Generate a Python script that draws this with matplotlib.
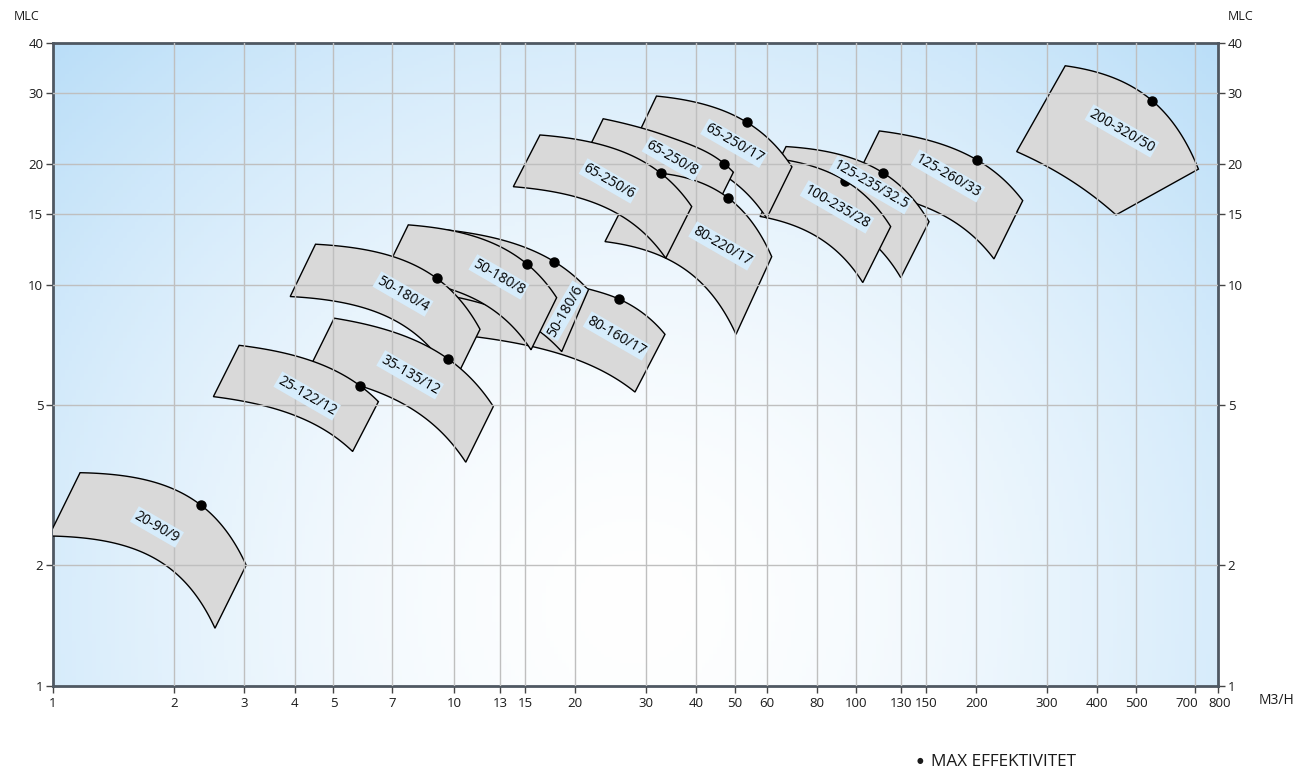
import numpy as np
import matplotlib
matplotlib.use("Agg")
import matplotlib.pyplot as plt
import matplotlib.transforms as mtransforms
from matplotlib.ticker import NullLocator

plt.rcParams["font.family"] = ["Open Sans", "DejaVu Sans"]

# %%
# Pump ranges (Q in m3/h, H in MLC), listed back to front
pumps = ["200-320/50", "125-260/33", "125-235/32.5", "100-235/28", "65-250/17",
         "65-250/8", "80-220/17", "65-250/6", "80-160/17", "50-180/6",
         "50-180/8", "50-180/4", "35-135/12", "25-122/12", "20-90/9"]

# max impeller curve
top_q = [[333, 549, 715], [114.6, 200.7, 260.9], [67.1, 116.8, 152.4],
         [67.9, 94.1, 122.3], [31.9, 53.5, 69.4], [23.5, 33.8, 47.1, 49.6],
         [29.1, 48.0, 61.8], [16.35, 32.7, 39.05], [10.33, 21.54, 25.77, 33.5],
         [9.57, 17.75, 21.58], [7.68, 15.2, 17.99], [4.51, 9.04, 11.59],
         [5.02, 9.63, 12.51], [2.91, 5.82, 6.47], [1.168, 2.334, 3.03]]
top_h = [[35.1, 28.7, 19.4], [24.15, 20.45, 16.19], [22.08, 19.02, 14.35],
         [20.4, 18.16, 13.95], [29.5, 25.4, 19.65], [25.9, 23.47, 20.0, 19.06],
         [19.1, 16.48, 11.74], [23.6, 18.95, 15.65], [10.75, 9.76, 9.2, 7.52],
         [13.69, 11.41, 9.7], [14.09, 11.24, 9.28], [12.61, 10.37, 7.74],
         [8.25, 6.54, 4.97], [7.06, 5.6, 5.11], [3.4, 2.825, 2.0]]

# min impeller curve
bot_q = [[252, 335.7, 445.6], [97.2, 170.2, 221.2], [57.0, 99.3, 129.6],
         [57.8, 80.1, 104.2], [27.7, 46.4, 60.05], [20.3, 29.2, 42.8],
         [23.74, 33.64, 50.35], [14.03, 28.1, 33.64], [9.21, 18.34, 28.2],
         [8.22, 15.23, 18.52], [6.63, 13.12, 15.53], [3.9, 7.8, 10.0],
         [4.29, 8.22, 10.68], [2.51, 5.02, 5.58], [0.977, 1.953, 2.533]]
bot_h = [[21.45, 18.45, 14.92], [17.29, 14.64, 11.59], [16.01, 13.79, 10.41],
         [14.79, 13.17, 10.12], [21.96, 18.89, 14.64], [19.2, 17.12, 14.15],
         [12.8, 11.64, 7.52], [17.54, 14.09, 11.64], [7.58, 6.72, 5.4],
         [9.61, 8.01, 6.81], [10.43, 8.33, 6.88], [9.34, 7.68, 5.73],
         [6.0, 4.75, 3.61], [5.26, 4.19, 3.84], [2.365, 1.965, 1.393]]

# max efficiency points
bep_q = [549, 200.7, 116.8, 94.1, 53.5, 47.1, 48.0, 32.7, 25.77, 17.75,
         15.2, 9.04, 9.63, 5.82, 2.334]
bep_h = [28.7, 20.45, 19.02, 18.16, 25.4, 20.0, 16.48, 18.95, 9.2, 11.41,
         11.24, 10.37, 6.54, 5.6, 2.825]

# label anchors
label_q = [461, 169.9, 109.2, 89.9, 49.8, 34.9, 46.5, 24.3, 25.4, 18.87,
           12.92, 7.45, 7.76, 4.30, 1.816]
label_h = [24.15, 18.66, 17.72, 15.62, 22.5, 20.6, 12.49, 18.13, 7.45, 8.6,
           10.45, 9.48, 5.96, 5.28, 2.49]

x_ticks = [1, 2, 3, 4, 5, 7, 10, 13, 15, 20, 30, 40, 50, 60, 80, 100, 130,
           150, 200, 300, 400, 500, 700, 800]
y_ticks = [1, 2, 5, 10, 15, 20, 30, 40]


def pump_curve(q, h, n=40):
    """Cubic Hermite through the points (parabolic slopes, linear Q-H)."""
    x = np.asarray(q, float)
    y = np.asarray(h, float)
    dx = np.diff(x)
    d = np.diff(y) / dx
    m = np.empty(len(x))
    m[1:-1] = (dx[1:] * d[:-1] + dx[:-1] * d[1:]) / (dx[:-1] + dx[1:])
    m[0] = d[0] + (d[0] - d[1]) * dx[0] / (dx[0] + dx[1])
    m[-1] = d[-1] + (d[-1] - d[-2]) * dx[-1] / (dx[-2] + dx[-1])
    xs, ys = [], []
    for i in range(len(x) - 1):
        t = np.linspace(0, 1, n)
        if i:
            t = t[1:]
        h00 = 2 * t**3 - 3 * t**2 + 1
        h10 = t**3 - 2 * t**2 + t
        h01 = -2 * t**3 + 3 * t**2
        h11 = t**3 - t**2
        xs.append(x[i] + t * dx[i])
        ys.append(h00 * y[i] + h10 * dx[i] * m[i] + h01 * y[i + 1] + h11 * dx[i] * m[i + 1])
    return np.concatenate(xs), np.concatenate(ys)


W, H = 1296, 776
fig = plt.figure(figsize=(W / 100, H / 100), dpi=100)
pos = [53 / W, 1 - 686 / H, (1218 - 53) / W, (686 - 43) / H]

# background gradient
bg = fig.add_axes(pos, zorder=0)
u, v = np.meshgrid(np.linspace(0, 1, 300), np.linspace(0, 1, 200))
dist = np.sqrt(((u - 0.5) / 0.5) ** 2 + ((v - 0.12) / 0.88) ** 2) / np.sqrt(2)
dist = np.clip(dist, 0, 1) ** 1.6
c0 = np.array([1.0, 1.0, 1.0])
c1 = np.array([186, 222, 248]) / 255
img = c0 + (c1 - c0) * dist[..., None]
bg.imshow(img, origin="lower", extent=[0, 1, 0, 1], aspect="auto")
bg.axis("off")

ax = fig.add_axes(pos, zorder=1)
ax.patch.set_alpha(0)
ax.set_xscale("log")
ax.set_yscale("log")
ax.set_xlim(1, 800)
ax.set_ylim(1, 40)

for i, name in enumerate(pumps):
    tq, th = pump_curve(top_q[i], top_h[i])
    bq, bh = pump_curve(bot_q[i], bot_h[i])
    ax.fill(np.concatenate([tq, bq[::-1]]), np.concatenate([th, bh[::-1]]),
            fc="#d9d9d9", ec="black", lw=1.0, zorder=2 + i)

# grid sits over the ranges
for xv in x_ticks[1:-1]:
    ax.axvline(xv, color="#bfbfbf", lw=1.0, zorder=30)
for yv in y_ticks[1:-1]:
    ax.axhline(yv, color="#bfbfbf", lw=1.0, zorder=30)

ax.plot(bep_q, bep_h, "o", color="black", ms=6.5, zorder=40)

for i, name in enumerate(pumps):
    rot = 60 if name == "50-180/6" else -30
    ax.text(label_q[i], label_h[i], name, rotation=rot, rotation_mode="anchor",
            ha="center", va="center", fontsize=10, color="black", zorder=45,
            bbox=dict(boxstyle="square,pad=0.1", fc="#d6ecfb", ec="none"))

ax.xaxis.set_minor_locator(NullLocator())
ax.yaxis.set_minor_locator(NullLocator())
ax.set_xticks(x_ticks)
ax.set_xticklabels([str(t) for t in x_ticks])
ax.set_yticks(y_ticks)
ax.set_yticklabels([str(t) for t in y_ticks])
ax.tick_params(axis="both", which="both", direction="out", length=5, width=1,
               color="#444444", labelsize=9.5, labelcolor="#1a1a1a", pad=2)
ax.tick_params(axis="x", pad=3)
ax.tick_params(axis="y", right=True, labelright=True)
for s in ax.spines.values():
    s.set_color("#4f5862")
    s.set_linewidth(2)

# crowded labels at the right end are pushed apart
xlabels = ax.get_xticklabels()
for lab, dx_in in ((xlabels[x_ticks.index(700)], -0.08), (xlabels[x_ticks.index(800)], 0.02)):
    lab.set_transform(lab.get_transform() + mtransforms.ScaledTranslation(dx_in, 0, fig.dpi_scale_trans))

fig.text(27 / W, 1 - 17 / H, "MLC", ha="center", va="center", fontsize=9, color="#1a1a1a")
fig.text(1241 / W, 1 - 17 / H, "MLC", ha="center", va="center", fontsize=9, color="#1a1a1a")
fig.text(1276 / W, 1 - 701 / H, "M3/H", ha="center", va="center", fontsize=10, color="#1a1a1a")
fig.text(920 / W, 1 - 761 / H, "\u25cf", ha="center", va="center", fontsize=5.5, color="#1a1a1a")
fig.text(931 / W, 1 - 762 / H, "MAX EFFEKTIVITET", ha="left", va="center",
         fontsize=12.3, color="#1a1a1a")

fig.savefig("out.png", dpi=100)
